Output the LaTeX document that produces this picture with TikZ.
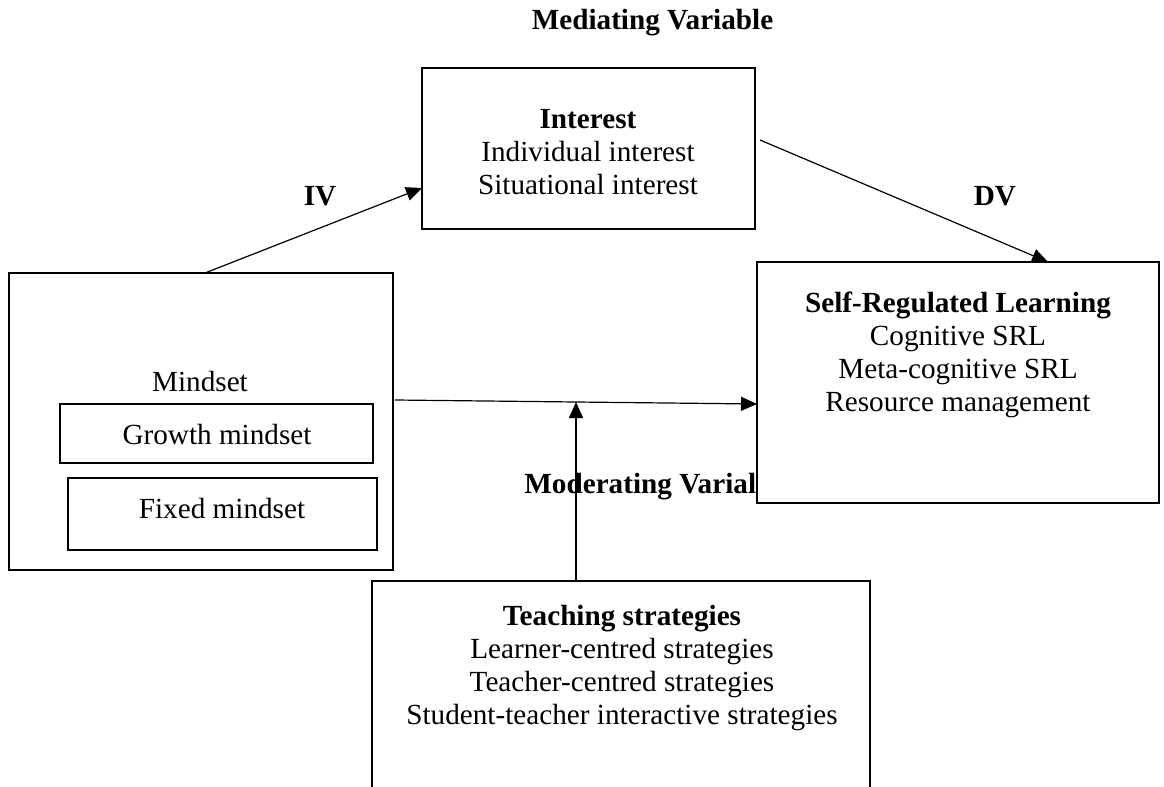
\documentclass[tikz,border=0pt]{standalone}
\usepackage{fontspec}
\setmainfont{Liberation Serif}
\usetikzlibrary{arrows.meta,calc}
\begin{document}
\begin{tikzpicture}[x=0.5pt,y=-0.5pt,
  txt/.style={font=\fontsize{14.6pt}{16.4pt}\selectfont, inner sep=0pt, align=center},
  head/.style={txt, font=\fontsize{14.6pt}{16.4pt}\selectfont\bfseries},
  box/.style={draw, line width=1.1pt, fill=white, inner sep=0pt, outer sep=0pt, anchor=north west},
  conn/.style={line width=0.6pt},
  arr/.style={conn, -{Triangle[length=8pt,width=7pt]}}]
  \clip (0,0) rectangle (1164,787);

  % boxes
  \node[box, minimum width=192pt, minimum height=148.5pt] (mind) at (9,273) {};
  \node[box, minimum width=156.5pt, minimum height=29.5pt] (growth) at (60,404) {};
  \node[box, minimum width=154.5pt, minimum height=36pt] (fixed) at (68,478) {};
  \node[box, minimum width=166.5pt, minimum height=80.5pt] (int) at (422,68) {};
  \node[box, minimum width=201pt, minimum height=120.5pt] (srl) at (757,262) {};
  \node[box, minimum width=249pt, minimum height=130pt] (teach) at (372,581) {};

  % headings and labels
  \node[head] (medlab) at (652.5,23) {Mediating Variable};
  \node[head] (iv) at (320,196) {IV};
  \node[head] (dv) at (995,196) {DV};
  \node[head, anchor=base west] (modlab) at (524,493) {Moderating Varial};

  % box contents
  \node[txt] (inttxt) at (588,152) {\textbf{Interest}\\Individual interest\\Situational interest};
  \node[txt] (srltxt) at (958,355) {\textbf{Self-Regulated Learning}\\Cognitive SRL\\Meta-cognitive SRL\\Resource management};
  \node[txt] (teachtxt) at (622,668) {\textbf{Teaching strategies}\\Learner-centred strategies\\Teacher-centred strategies\\Student-teacher interactive strategies};
  \node[txt] (mindtxt) at (200,382) {Mindset};
  \node[txt] (growthtxt) at (217,435) {Growth mindset};
  \node[txt] (fixedtxt) at (222,509) {Fixed mindset};

  % connectors
  \draw[arr] ($(mind.north west)+(196,0)$) -- ($(int.west)+(0,39.5)$);
  \draw[arr] ($(int.east)+(5,-8.5)$) -- ($(srl.north)+(90,0)$);
  \draw[arr] ($(mind.east)+(2,-21.5)$) -- ($(srl.west)+(0,21.5)$) coordinate[pos=0.5] (modpt);
  \draw[arr] (modpt |- teach.north) -- (modpt);
\end{tikzpicture}
\end{document}
